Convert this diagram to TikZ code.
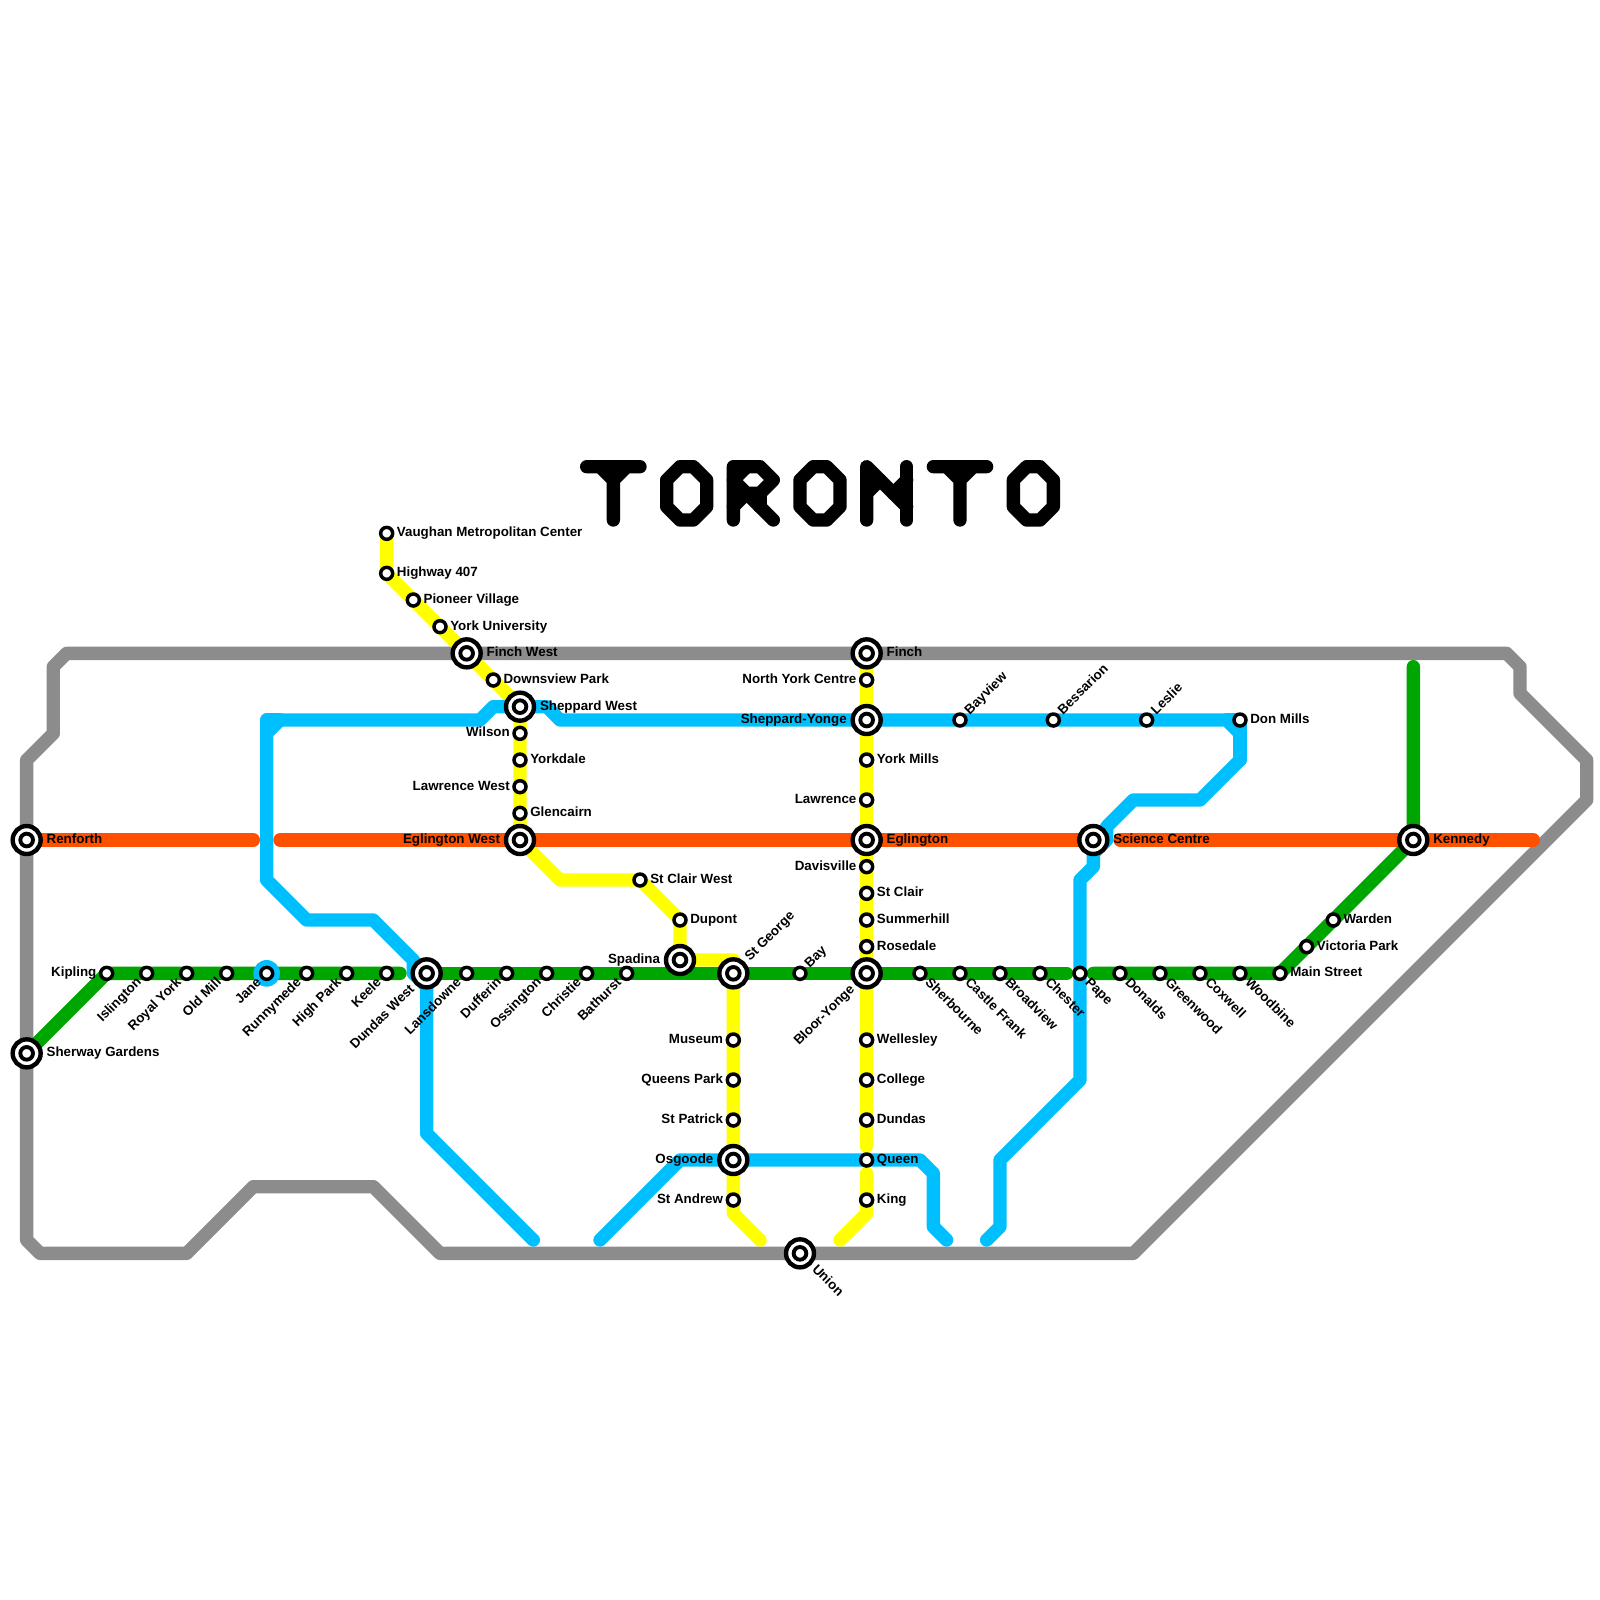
\documentclass[tikz,border=0pt]{standalone}
\usepackage{fontspec}
\setmainfont{Liberation Sans}
\pgfdeclarelayer{lines}
\pgfsetlayers{lines,main}
\definecolor{cgrey}{HTML}{8C8C8C}
\definecolor{cgreen}{HTML}{00A600}
\definecolor{cblue}{HTML}{00BFFF}
\definecolor{cyellow}{HTML}{FFFF00}
\definecolor{corange}{HTML}{FF5000}
\tikzset{
  sstop/.style={circle,draw=black,fill=white,line width=.26mm,minimum size=.9mm,inner sep=0pt,outer sep=0pt},
  istop/.style={circle,draw=black,fill=white,line width=.33mm,minimum size=2.1mm,inner sep=0pt,outer sep=0pt,
    path picture={\draw[black,line width=.29mm] (path picture bounding box.center) circle (.475mm);}},
  metro/.style={line width=1mm,line cap=round,line join=round},
  lgrey/.style={metro,draw=cgrey},
  lgreen/.style={metro,draw=cgreen},
  lblue/.style={metro,draw=cblue},
  lyellow/.style={metro,draw=cyellow},
  lorange/.style={metro,draw=corange},
  glyph/.style={metro,draw=black},
  lab/.style={inner sep=0pt,outer sep=0pt,text=black,text height=.74mm,text depth=.2mm,
    font=\fontsize{2.85}{3.2}\selectfont\bfseries},
  labR/.style={lab,anchor=west,xshift=.77mm},
  labL/.style={lab,anchor=east,xshift=-.77mm},
  labUR/.style={lab,anchor=west,rotate=45,xshift=.77mm},
  labLL/.style={lab,anchor=east,rotate=45,xshift=-.77mm},
  labLR/.style={lab,anchor=west,rotate=-45,xshift=.77mm},
  ilabR/.style={lab,anchor=west,xshift=1.5mm},
  ilabL/.style={lab,anchor=east,xshift=-1.5mm},
  ilabUR/.style={lab,anchor=west,rotate=45,xshift=1.5mm},
  ilabLL/.style={lab,anchor=east,rotate=45,xshift=-1.5mm},
  ilabLR/.style={lab,anchor=west,rotate=-45,xshift=1.5mm},
}
\newcommand{\stn}[6]{\node[#1] (#2) at (#3,#4) {}; \node[#5] (#2-lab) at (#3,#4) {#6};}
\begin{document}
\begin{tikzpicture}[x=1mm,y=-1mm]
\useasboundingbox (0,0) rectangle (120,120);

% waypoints: grey ring
\foreach \n/\x/\y in {ga/2/93,gb/3/94,gc/14/94,gd/19/89,ge/28/89,gf/33/94,gg/85/94,gh/119/60,gi/119/57,gj/114/52,gk/114/50,gl/113/49,gm/5/49,gn/4/50,go/4/55,gp/2/57,
  % green
  ea/30/73,eb/80/73,ec/82/73,ed/106/50,
  % orange
  oa/19/63,ob/21/63,oc/82/63,od/84/63,oe/115/63,
  % blue west
  ba/40/93,bb/32/85,bc/32/74,bd/31/73,be/31/72,bf/28/69,bg/23/69,bh/20/66,bi/20/55,bj/21/54,bk/36/54,bl/37/53,bm/41/53,bn/42/54,bo/92/54,bp/93/55,bq/93/57,br/90/60,bs/85/60,bt/83/62,bu/83/63,bv/82/64,bw/82/65,bx/81/66,by/81/81,bz/75/87,bA/75/92,bB/74/93,bC/20/54,
  % blue queen
  qa/45/93,qb/51/87,qc/69/87,qd/70/88,qe/70/92,qf/71/93,
  % yellow
  ya/29/43,yb/39/63,yc/42/66,yd/55/72,ye/55/91,yf/57/93,yg/65/86,yh/65/88,yi/65/91,yj/63/93}
  {\coordinate (\n) at (\x,\y);}

% Bloor-Danforth line stations
\stn{istop}{sherway}{2}{79}{ilabR}{Sherway Gardens}
\stn{istop}{renforth}{2}{63}{ilabR}{Renforth}
\stn{sstop}{kipling}{8}{73}{labL}{Kipling}
\stn{sstop}{islington}{11}{73}{labLL}{Islington}
\stn{sstop}{royalyork}{14}{73}{labLL}{Royal York}
\stn{sstop}{oldmill}{17}{73}{labLL}{Old Mill}
\stn{sstop}{jane}{20}{73}{labLL}{Jane}
\stn{sstop}{runnymede}{23}{73}{labLL}{Runnymede}
\stn{sstop}{highpark}{26}{73}{labLL}{High Park}
\stn{sstop}{keele}{29}{73}{labLL}{Keele}
\stn{istop}{dundaswest}{32}{73}{ilabLL}{Dundas West}
\stn{sstop}{lansdowne}{35}{73}{labLL}{Lansdowne}
\stn{sstop}{dufferin}{38}{73}{labLL}{Dufferin}
\stn{sstop}{ossington}{41}{73}{labLL}{Ossington}
\stn{sstop}{christie}{44}{73}{labLL}{Christie}
\stn{sstop}{bathurst}{47}{73}{labLL}{Bathurst}
\stn{istop}{spadina}{51}{72}{ilabL}{Spadina}
\stn{istop}{stgeorge}{55}{73}{ilabUR}{St George}
\stn{sstop}{bay}{60}{73}{labUR}{Bay}
\stn{istop}{bloor}{65}{73}{ilabLL}{Bloor-Yonge}
\stn{sstop}{sherbourne}{69}{73}{labLR}{Sherbourne}
\stn{sstop}{castlefrank}{72}{73}{labLR}{Castle Frank}
\stn{sstop}{broadview}{75}{73}{labLR}{Broadview}
\stn{sstop}{chester}{78}{73}{labLR}{Chester}
\stn{sstop}{pape}{81}{73}{labLR}{Pape}
\stn{sstop}{donalds}{84}{73}{labLR}{Donalds}
\stn{sstop}{greenwood}{87}{73}{labLR}{Greenwood}
\stn{sstop}{coxwell}{90}{73}{labLR}{Coxwell}
\stn{sstop}{woodbine}{93}{73}{labLR}{Woodbine}
\stn{sstop}{mainstreet}{96}{73}{labR}{Main Street}
\stn{sstop}{victoriapark}{98}{71}{labR}{Victoria Park}
\stn{sstop}{warden}{100}{69}{labR}{Warden}
\stn{istop}{kennedy}{106}{63}{ilabR}{Kennedy}
% Eglinton line
\stn{istop}{eglwest}{39}{63}{ilabL}{Eglington West}
\stn{istop}{eglington}{65}{63}{ilabR}{Eglington}
\stn{istop}{science}{82}{63}{ilabR}{Science Centre}
% University side
\stn{sstop}{vaughan}{29}{40}{labR}{Vaughan Metropolitan Center}
\stn{sstop}{hwy}{29}{43}{labR}{Highway 407}
\stn{sstop}{pioneer}{31}{45}{labR}{Pioneer Village}
\stn{sstop}{yorku}{33}{47}{labR}{York University}
\stn{istop}{finchwest}{35}{49}{ilabR}{Finch West}
\stn{sstop}{downsview}{37}{51}{labR}{Downsview Park}
\stn{istop}{shepwest}{39}{53}{ilabR}{Sheppard West}
\stn{sstop}{wilson}{39}{55}{labL}{Wilson}
\stn{sstop}{yorkdale}{39}{57}{labR}{Yorkdale}
\stn{sstop}{lawrwest}{39}{59}{labL}{Lawrence West}
\stn{sstop}{glencairn}{39}{61}{labR}{Glencairn}
\stn{sstop}{stclairw}{48}{66}{labR}{St Clair West}
\stn{sstop}{dupont}{51}{69}{labR}{Dupont}
\stn{sstop}{museum}{55}{78}{labL}{Museum}
\stn{sstop}{queenspark}{55}{81}{labL}{Queens Park}
\stn{sstop}{stpatrick}{55}{84}{labL}{St Patrick}
\stn{istop}{osgoode}{55}{87}{ilabL}{Osgoode}
\stn{sstop}{standrew}{55}{90}{labL}{St Andrew}
\stn{istop}{union}{60}{94}{ilabLR}{Union}
% Yonge side
\stn{istop}{finch}{65}{49}{ilabR}{Finch}
\stn{sstop}{northyork}{65}{51}{labL}{North York Centre}
\stn{istop}{shepyonge}{65}{54}{ilabL}{Sheppard-Yonge}
\stn{sstop}{yorkmills}{65}{57}{labR}{York Mills}
\stn{sstop}{lawrence}{65}{60}{labL}{Lawrence}
\stn{sstop}{davisville}{65}{65}{labL}{Davisville}
\stn{sstop}{stclair}{65}{67}{labR}{St Clair}
\stn{sstop}{summerhill}{65}{69}{labR}{Summerhill}
\stn{sstop}{rosedale}{65}{71}{labR}{Rosedale}
\stn{sstop}{wellesley}{65}{78}{labR}{Wellesley}
\stn{sstop}{college}{65}{81}{labR}{College}
\stn{sstop}{dundas}{65}{84}{labR}{Dundas}
\stn{sstop}{queen}{65}{87}{labR}{Queen}
\stn{sstop}{king}{65}{90}{labR}{King}
% Sheppard
\stn{sstop}{bayview}{72}{54}{labUR}{Bayview}
\stn{sstop}{bessarion}{79}{54}{labUR}{Bessarion}
\stn{sstop}{leslie}{86}{54}{labUR}{Leslie}
\stn{sstop}{donmills}{93}{54}{labR}{Don Mills}

\begin{pgfonlayer}{lines}
  \fill[white] (0,0) rectangle (120,120);
  % grey
  \draw[lgrey] (renforth.center) -- (sherway.center) -- (ga) -- (gb) -- (gc) -- (gd) -- (ge) -- (gf) -- (gg) -- (gh) -- (gi) -- (gj) -- (gk) -- (gl) -- (gm) -- (gn) -- (go) -- (gp) -- cycle;
  % yellow
  \draw[lyellow] (vaughan.center) -- (ya) -- (shepwest.center) -- (yb) -- (yc) -- (stclairw.center) -- (dupont.center) -- (spadina.center) -- (yd) -- (stgeorge.center) -- (ye) -- (yf);
  \draw[lyellow] (finch.center) -- (yg);
  \draw[lyellow] (yh) -- (yi) -- (yj);
  % orange
  \draw[lorange] (renforth.center) -- (oa);
  \draw[lorange] (ob) -- (oc);
  \draw[lorange] (od) -- (oe);
  % blue
  \draw[lblue] (ba) -- (bb) -- (bc) -- (bd) -- (be) -- (bf) -- (bg) -- (bh) -- (bi) -- (bj) -- (bk) -- (bl) -- (bm) -- (bn) -- (bo) -- (bp) -- (bq) -- (br) -- (bs) -- (bt) -- (bu) -- (bv) -- (bw) -- (bx) -- (by) -- (bz) -- (bA) -- (bB);
  \draw[lblue] (bi) -- (bC) -- (bj);
  \draw[lblue] (bo) -- (donmills.center) -- (bq);
  \draw[lblue] (qa) -- (qb) -- (qc) -- (qd) -- (qe) -- (qf);
  % green
  \draw[lgreen] (sherway.center) -- (kipling.center) -- (ea);
  \draw[lgreen] (dundaswest.center) -- (eb);
  \draw[lgreen] (ec) -- (mainstreet.center) -- (kennedy.center) -- (ed);
  % blue ring at Jane
  \fill[cblue] (jane.center) circle (1mm);
\end{pgfonlayer}

% TORONTO title, drawn as strokes
\foreach \o in {0,26}{
  \begin{scope}[shift={(\o,0)}]
    \draw[glyph] (44,35) -- (48,35) (46,35) -- (46,39) (45,35) -- (46,36) -- (47,35);
  \end{scope}}
\foreach \o in {0,10,26}{
  \begin{scope}[shift={(\o,0)}]
    \draw[glyph] (51,35) -- (52,35) -- (53,36) -- (53,38) -- (52,39) -- (51,39) -- (50,38) -- (50,36) -- cycle;
  \end{scope}}
\draw[glyph] (55,39) -- (55,35) -- (56,35) -- (57,35) -- (58,36) -- (57,37) -- (56,37) -- (55,36);
\draw[glyph] (55,36) -- (56,35);
\draw[glyph] (55,38) -- (56,37) -- (58,39);
\draw[glyph] (57,37) -- (57,38);
\draw[glyph] (65,39) -- (65,35) -- (68,38);
\draw[glyph] (68,35) -- (68,39);
\draw[glyph] (65,37) -- (66,36);
\draw[glyph] (67,37) -- (68,36);
\end{tikzpicture}
\end{document}
